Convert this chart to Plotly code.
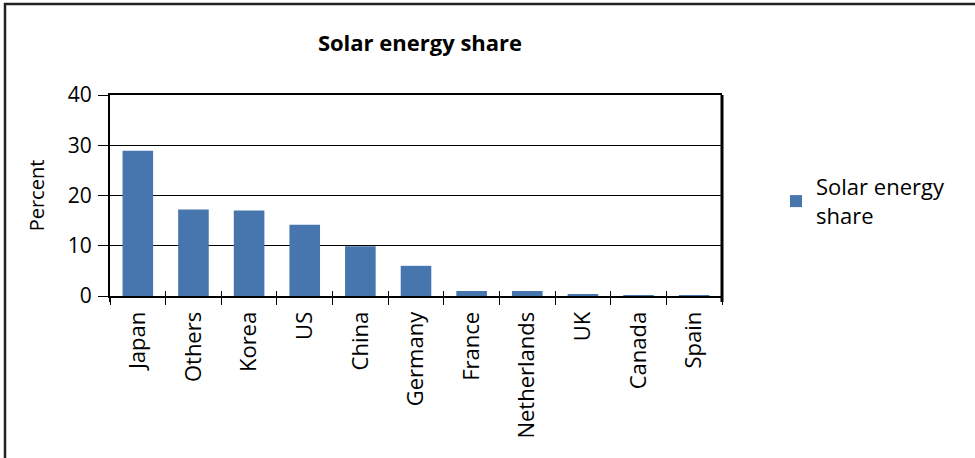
import plotly.graph_objects as go

categories = ["Japan", "Others", "Korea", "US", "China", "Germany", "France",
              "Netherlands", "UK", "Canada", "Spain"]
values = [28.9, 17.2, 17.0, 14.2, 9.9, 6.0, 1.0, 1.0, 0.4, 0.2, 0.2]
y_ticks = [0, 10, 20, 30, 40]
series_name = "Solar energy<br>share"
title_text = "Solar energy share"

W, H = 975, 458
L, R, T, B = 110, 253, 95, 162
pw, ph = W - L - R, H - T - B

FONT = "Open Sans"
BAR = "#4676AD"

fig = go.Figure()
fig.add_trace(go.Bar(x=categories, y=values, name=series_name,
                     marker=dict(color=BAR, line=dict(width=0)), showlegend=True))
# invisible helper trace for inner tick marks on overlay axis
fig.add_trace(go.Scatter(x=[0], y=[0], xaxis="x2", mode="markers",
                         marker=dict(opacity=0), showlegend=False, hoverinfo="skip"))

fig.update_layout(
    width=W, height=H,
    margin=dict(l=L, r=R, t=T, b=B),
    paper_bgcolor="white", plot_bgcolor="white",
    font=dict(family=FONT, size=20, color="#111"),
    title=dict(text="<b>" + title_text + "</b>", x=(420 - L) / pw, xref="paper",
               xanchor="center", y=1 - 43 / H, yanchor="middle",
               font=dict(family=FONT, size=22, color="#000")),
    bargap=0.45,
    xaxis=dict(type="category", range=[-0.5, 10.5], showgrid=False,
               showline=True, linecolor="#000", linewidth=2, mirror=True,
               ticks="outside", ticklen=7, tickwidth=1, tickcolor="#000",
               tickson="boundaries", tickangle=-90, ticklabelstandoff=5,
               tickfont=dict(family=FONT, size=22, color="#000"),
               zeroline=False),
    xaxis2=dict(overlaying="x", anchor="y", range=[-0.5, 10.5],
                tickvals=[i + 0.5 for i in range(len(categories) - 1)],
                ticks="inside", ticklen=5, tickwidth=1, tickcolor="#000",
                showticklabels=False, showgrid=False, showline=False,
                zeroline=False, side="bottom"),
    yaxis=dict(range=[0, 40], tickvals=y_ticks, showgrid=True,
               gridcolor="#000", gridwidth=1, showline=True,
               linecolor="#000", linewidth=2, ticks="outside", ticklen=10,
               tickwidth=1, tickcolor="#000", zeroline=False,
               tickfont=dict(family=FONT, size=21, color="#000"),
               ticklabelstandoff=2,
               title=dict(text="Percent", font=dict(family=FONT, size=20, color="#000"),
                          standoff=18)),
    legend=dict(x=(776 - L) / pw, y=(296 - 166) / ph, xanchor="left", yanchor="top",
                font=dict(family=FONT, size=22, color="#000"),
                bgcolor="rgba(0,0,0,0)", itemwidth=30),
    shapes=[
        # right plot border
        dict(type="line", xref="paper", yref="paper", x0=1, x1=1, y0=-6 / ph, y1=1,
             line=dict(color="#000", width=3)),
        # left axis extension below zero
        dict(type="line", xref="paper", yref="paper", x0=0, x1=0, y0=-6 / ph, y1=0,
             line=dict(color="#000", width=2)),
        # outer frame (top and left edges of the boxed figure)
        dict(type="rect", xref="paper", yref="paper",
             x0=(5 - L) / pw, x1=(990 - L) / pw,
             y0=(296 - 480) / ph, y1=(296 - 4) / ph,
             line=dict(color="#222", width=2.5), fillcolor="rgba(0,0,0,0)"),
    ],
)

fig.write_html("out.html", config={"displayModeBar": False},
               post_script="document.body.style.margin='0';")
